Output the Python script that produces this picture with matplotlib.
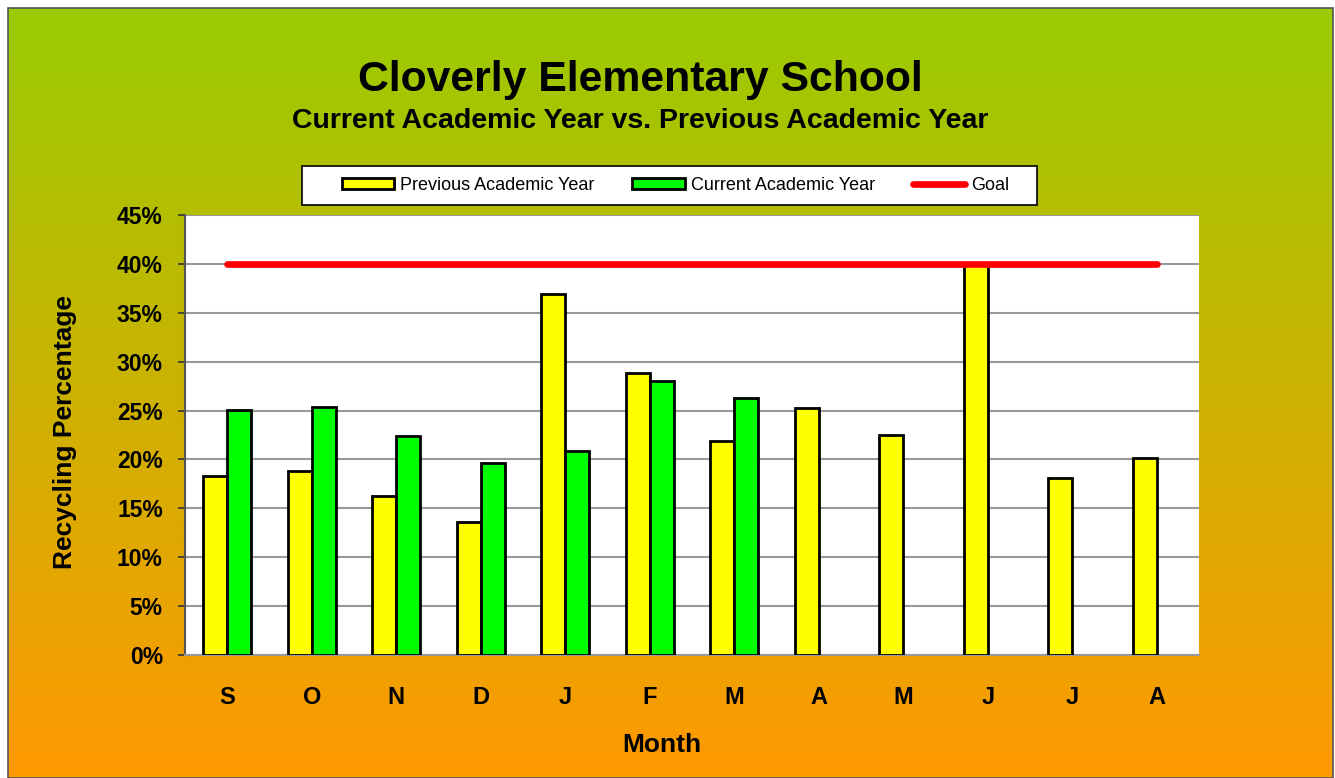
import numpy as np
import matplotlib
matplotlib.use("Agg")
import matplotlib.pyplot as plt
from matplotlib.patches import Rectangle
from matplotlib.lines import Line2D
from matplotlib.patches import Patch

months = ["S", "O", "N", "D", "J", "F", "M", "A", "M", "J", "J", "A"]
previous = [18.3, 18.8, 16.3, 13.6, 36.9, 28.8, 21.9, 25.3, 22.5, 40.0, 18.1, 20.1]
current = [25.1, 25.4, 22.4, 19.6, 20.9, 28.0, 26.3, None, None, None, None, None]
goal = 40
yticks = [0, 5, 10, 15, 20, 25, 30, 35, 40, 45]

plt.rcParams['font.family'] = ['Liberation Sans', 'DejaVu Sans']

W, H = 1335, 778
fig = plt.figure(figsize=(W / 100, H / 100), dpi=100)
fig.patch.set_facecolor("white")

# gradient background
bg = fig.add_axes([0, 0, 1, 1], zorder=-10)
bg.set_xlim(0, W)
bg.set_ylim(H, 0)
bg.axis("off")
n = 256
top = np.array([0.60, 0.80, 0.0])
bot = np.array([1.0, 0.60, 0.0])
t = np.linspace(0, 1, n)[:, None]
grad = (top * (1 - t) + bot * t)[:, None, :]
bg.imshow(grad, extent=[8, W - 2, H, 8], aspect="auto", interpolation="bicubic")
bg.add_patch(Rectangle((8, 8), W - 10, H - 8, fill=False, edgecolor="#555555", lw=1.2))
# legend box
bg.add_patch(Rectangle((302, 166), 735, 39, facecolor="white", edgecolor="black", lw=1.2))

# plot area
L, R, T, B = 185, 1199, 215, 655
ax = fig.add_axes([L / W, 1 - B / H, (R - L) / W, (B - T) / H])
ax.set_facecolor("white")
x = np.arange(len(months))
bw = 0.284
ax.bar(x - bw / 2, previous, width=bw, color="#FFFF00", edgecolor="black", linewidth=2, zorder=3)
cur_x = [xi for xi, v in zip(x, current) if v is not None]
cur_v = [v for v in current if v is not None]
ax.bar(np.array(cur_x) + bw / 2, cur_v, width=bw, color="#00FF00", edgecolor="black", linewidth=2, zorder=3)
ax.plot([x[0], x[-1]], [goal, goal], color="#FF0000", lw=4.8, solid_capstyle="round", zorder=4)

ax.set_xlim(-0.5, len(months) - 0.5)
ax.set_ylim(0, 45)
ax.set_yticks(yticks)
ax.set_yticklabels([f"{v}%" for v in yticks], fontsize=16.5, fontweight="bold")
ax.set_xticks(x)
ax.set_xticklabels(months, fontsize=17, fontweight="bold")
ax.tick_params(axis="x", length=0, pad=22)
ax.tick_params(axis="y", length=5, width=1.2, color="#333333", pad=11)
ax.yaxis.grid(True, color="#999999", lw=1.5, zorder=0)
ax.set_axisbelow(True)
for s in ["top", "right"]:
    ax.spines[s].set_visible(False)
ax.spines["left"].set_color("#555555")
ax.spines["left"].set_linewidth(1.5)
ax.spines["bottom"].set_color("#999999")
ax.spines["bottom"].set_linewidth(1.5)

fig.text(662 / W, 1 - 745 / H, "Month", ha="center", va="center", fontsize=19, fontweight="bold")
fig.text(65 / W, 1 - 432 / H, "Recycling Percentage", ha="center", va="center", rotation=90,
         fontsize=19, fontweight="bold")

fig.text(640 / W, 1 - 80 / H, "Cloverly Elementary School", ha="center", va="center",
         fontsize=30.8, fontweight="bold")
fig.text(640 / W, 1 - 121 / H, "Current Academic Year vs. Previous Academic Year", ha="center",
         va="center", fontsize=20.5, fontweight="bold")

handles = [Patch(facecolor="#FFFF00", edgecolor="black", lw=2),
           Patch(facecolor="#00FF00", edgecolor="black", lw=2),
           Line2D([0], [0], color="#FF0000", lw=4.8, solid_capstyle="round")]
labels = ["Previous Academic Year", "Current Academic Year", "Goal"]
leg = fig.legend(handles, labels, loc="center", bbox_to_anchor=(675.5 / W, 1 - 185.5 / H),
                 ncol=3, frameon=False,
                 prop={"family": ["Liberation Sans Narrow", "Liberation Sans"], "size": 13},
                 handlelength=2.9, handleheight=0.6, handletextpad=0.33, columnspacing=2.1,
                 borderpad=0.3, borderaxespad=0)

fig.savefig("out.png", dpi=100)
